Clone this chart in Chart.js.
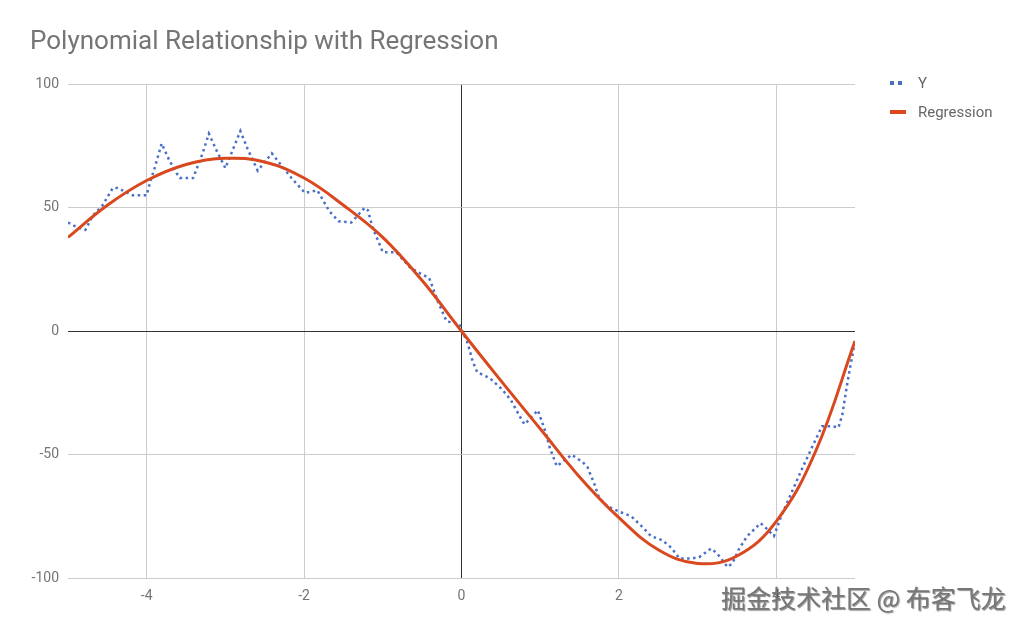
<!DOCTYPE html>
<html lang="en">
  <head>
    <meta charset="UTF-8" />
    <title>Polynomial Relationship with Regression</title>
    <script src="https://cdn.jsdelivr.net/npm/chart.js@4.4.1/dist/chart.umd.min.js"></script>
    <style>
      body {
        margin: 0;
        background: #ffffff;
        font-family: Roboto, Arial, sans-serif;
      }

      #wrap {
        position: relative;
        width: 1024px;
        height: 630px;
      }

      .legend {
        position: absolute;
        left: 890px;
        top: 73px;
        font-size: 15px;
        color: #666666;
      }

      .legend-item {
        display: flex;
        align-items: center;
        height: 20px;
        margin-bottom: 9px;
      }

      .legend-icon {
        width: 16px;
        height: 4px;
        margin-right: 12px;
      }

      .icon-dots {
        background: repeating-linear-gradient(90deg, #4a6fc7 0 4px, transparent 4px 8px);
      }

      .icon-line {
        background: #d9481f;
      }

      .watermark {
        position: absolute;
        left: 721px;
        top: 585px;
        font-family: "Noto Sans CJK SC", sans-serif;
        font-size: 25px;
        line-height: 1;
        color: #777777;
        text-shadow: 1px 1px 1px rgba(0, 0, 0, 0.45);
        white-space: nowrap;
      }
    </style>
  </head>
  <body>
    <div id="wrap">
      <canvas id="polyChart"></canvas>
      <div class="legend">
        <div class="legend-item"><span class="legend-icon icon-dots"></span>Y</div>
        <div class="legend-item"><span class="legend-icon icon-line"></span>Regression</div>
      </div>
      <div class="watermark">掘金技术社区 @ 布客飞龙</div>
    </div>

    <script>
      // observed points (x, y)
      const obsX = [
        -5.0, -4.88, -4.78, -4.68, -4.56, -4.43, -4.37, -4.18, -4.0, -3.96,
        -3.9, -3.81, -3.71, -3.62, -3.58, -3.41, -3.29, -3.21, -3.11, -3.0,
        -2.95, -2.81, -2.72, -2.59, -2.41, -2.31, -2.16, -1.99, -1.83, -1.68,
        -1.56, -1.4, -1.23, -1.19, -1.13, -1.0, -0.83, -0.66, -0.53, -0.41,
        -0.3, -0.19, -0.03, 0.08, 0.14, 0.2, 0.36, 0.52, 0.63, 0.76, 0.8, 0.9,
        0.97, 1.07, 1.12, 1.21, 1.28, 1.4, 1.54, 1.6, 1.69, 1.75, 1.86, 2.0,
        2.16, 2.29, 2.41, 2.55, 2.67, 2.77, 2.92, 3.02, 3.17, 3.25, 3.38, 3.44,
        3.53, 3.63, 3.8, 3.87, 3.97, 4.06, 4.19, 4.33, 4.46, 4.58, 4.71, 4.79,
        4.84, 4.89, 4.93, 5.0,
      ];
      const obsY = [
        44, 42, 41, 47, 51, 58, 58, 55, 55, 60,
        66, 76, 69, 64, 62, 62, 72, 80, 73, 66,
        70, 81, 74, 65, 72, 68, 62, 56, 57, 48.6,
        44.5, 44, 50, 49, 42, 32, 32, 26, 23.5, 21.5,
        12, 4, 3, -5, -12, -16.6, -19, -23.7, -28, -35.6, -37.7, -34.5,
        -32, -41, -47, -54.6, -53, -50, -53, -55, -62, -67.6, -71, -73,
        -75, -79, -83, -84.6, -87.8, -92, -92, -91.5, -88, -90, -95.5, -94,
        -88, -83, -77.7, -79.7, -83, -75, -65.6, -55.5, -46.6, -38.5, -38.5, -39,
        -33.6, -23.5, -16, -4,
      ];

      // regression curve, read at half-unit steps
      const regX = [
        -5, -4.5, -4, -3.5, -3, -2.5, -2, -1.5, -1, -0.5, 0,
        0.5, 1, 1.5, 2, 2.5, 3, 3.5, 4, 4.5, 5,
      ];
      const regY = [
        38, 51, 61, 67.5, 70, 68.5, 62, 51, 38, 20.5, 0,
        -20, -39.5, -59, -75.5, -88.5, -94, -91, -77, -48.6, -4,
      ];

      const xTicks = [-4, -2, 0, 2, 4];
      const yTicks = [-100, -50, 0, 50, 100];

      const gridColor = (ctx) =>
        ctx.tick && ctx.tick.value === 0 ? "#333333" : "#cccccc";

      document.addEventListener("DOMContentLoaded", function () {
        const ctx = document.getElementById("polyChart").getContext("2d");
        window.myChart = new Chart(ctx, {
          type: "line",
          data: {
            datasets: [
              {
                label: "Y",
                data: obsX.map((x, i) => ({ x: x, y: obsY[i] })),
                borderColor: "#4a6fc7",
                borderWidth: 2.5,
                borderDash: [2.5, 3.5],
                borderCapStyle: "butt",
                pointRadius: 0,
                fill: false,
                tension: 0,
                order: 1,
              },
              {
                label: "Regression",
                data: regX.map((x, i) => ({ x: x, y: regY[i] })),
                borderColor: "#d9481f",
                borderWidth: 3,
                pointRadius: 0,
                fill: false,
                tension: 0.4,
                order: 0,
              },
            ],
          },
          options: {
            responsive: true,
            maintainAspectRatio: false,
            animation: false,
            layout: {
              padding: { left: 30, right: 169, top: 0, bottom: 15 },
            },
            plugins: {
              title: {
                display: true,
                text: "Polynomial Relationship with Regression",
                align: "start",
                color: "#757575",
                font: { family: "Roboto", size: 26, weight: "normal" },
                padding: { top: 27, bottom: 26 },
              },
              legend: { display: false },
              tooltip: { enabled: false },
            },
            scales: {
              x: {
                type: "linear",
                min: -5,
                max: 5,
                afterBuildTicks: (axis) => {
                  axis.ticks = xTicks.map((v) => ({ value: v }));
                },
                ticks: {
                  color: "#757575",
                  font: { family: "Roboto", size: 14 },
                  padding: 10,
                },
                grid: { color: gridColor, drawTicks: false, lineWidth: 1 },
                border: { display: false },
              },
              y: {
                type: "linear",
                min: -100,
                max: 100,
                afterBuildTicks: (axis) => {
                  axis.ticks = yTicks.map((v) => ({ value: v }));
                },
                afterFit: (axis) => {
                  axis.width = 38;
                },
                ticks: {
                  color: "#757575",
                  font: { family: "Roboto", size: 14 },
                  padding: 9,
                },
                grid: { color: gridColor, drawTicks: false, lineWidth: 1 },
                border: { display: false },
              },
            },
          },
        });
      });
    </script>
  </body>
</html>
